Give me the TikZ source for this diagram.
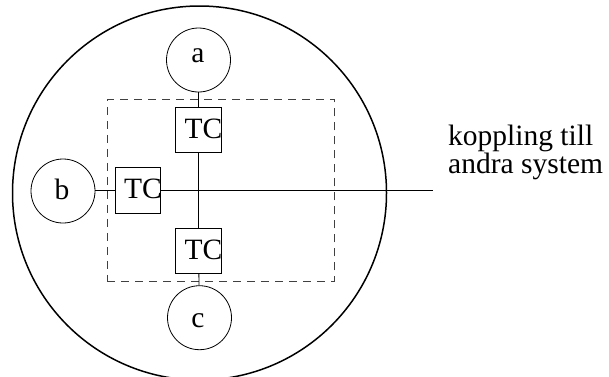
\documentclass[tikz,border=0pt]{standalone}
\usepackage{fontspec}
\setmainfont{Liberation Serif}
\begin{document}
\begin{tikzpicture}[x=1pt,y=-1pt,
  every node/.style={font=\fontsize{29.5}{28}\selectfont},
  station/.style={draw,circle,line width=0.8pt,minimum size=64pt,inner sep=0pt},
  tcbox/.style={draw,rectangle,line width=0.8pt,minimum size=45.5pt,inner sep=0pt},
  lbl/.style={inner sep=0pt,anchor=base west},
  conn/.style={line width=0.8pt}]
\useasboundingbox (0,0) rectangle (609,376);
\clip (0,0) rectangle (609,376);
% outer circle
\node[draw,circle,line width=1.5pt,minimum size=374pt,inner sep=0pt] (sys) at (199.5,193) {};
% dashed region
\node[draw=black!75,dashed,dash pattern=on 8pt off 6pt,line width=0.8pt,rectangle,inner sep=0pt,
      minimum width=227.4pt,minimum height=181.7pt] (region) at (221,190.2) {};
% stations
\node[station] (a) at (198.5,60) {};
\node[station] (b) at (63,191) {};
\node[station] (c) at (199.5,317.7) {};
\node[lbl,anchor=base] (la) at (198,62.3) {a};
\node[lbl,anchor=base] (lb) at (62,199.3) {b};
\node[lbl,anchor=base] (lc) at (198,327) {c};
% TC boxes
\node[tcbox] (tca) at (198.5,130) {};
\node[tcbox] (tcb) at (138,190.5) {};
\node[tcbox] (tcc) at (198.5,250.8) {};
\node[lbl] (ltca) at (184.3,138.3) {TC};
\node[lbl] (ltcb) at (124,198.3) {TC};
\node[lbl] (ltcc) at (184.3,259.3) {TC};
% connectors
\coordinate (ext) at (433,190.5);
\coordinate (x) at (198.5,190.5);
\draw[conn] (a) -- (tca);
\draw[conn] (tca) -- (tcc);
\draw[conn] (tcc) -- (c);
\draw[conn] (b.east |- tcb) -- (tcb);
\draw[conn] (tcb) -- (ext);
% external label
\node[lbl,align=left,anchor=base west] (ext-label) at (448,173.6) {koppling till\\andra system};
\end{tikzpicture}
\end{document}
